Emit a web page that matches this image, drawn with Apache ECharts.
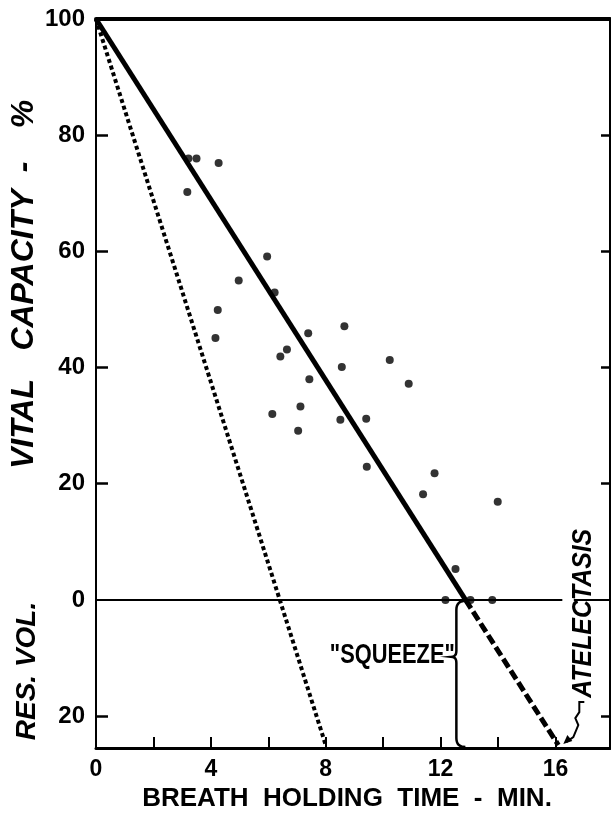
<!DOCTYPE html>
<html><head><meta charset="utf-8">
<script src="https://cdn.jsdelivr.net/npm/echarts@6/dist/echarts.min.js"></script>
<style>html,body{margin:0;padding:0;background:#fff;}#c{width:611px;height:814px;}</style>
</head><body><div id="c"></div>
<script>
// ---- data ----
const holdTime = [3.18, 3.22, 3.50, 4.27, 5.96, 4.97, 6.22, 4.24, 4.16, 7.39, 8.65, 6.65, 6.42, 10.23, 8.56,
                  10.89, 7.43, 7.12, 6.14, 7.04, 8.51, 9.41, 9.43, 11.79, 11.39, 13.99, 12.52, 12.17, 13.04, 13.80];
const vitalCap = [70.2, 76.0, 76.0, 75.2, 59.1, 55.0, 52.9, 49.9, 45.1, 45.9, 47.1, 43.1, 41.9, 41.3, 40.1,
                  37.2, 38.0, 33.3, 32.0, 29.1, 31.0, 31.2, 22.9, 21.8, 18.2, 16.9, 5.3, 0, 0, 0];
const solidFit = [[0, 100], [12.87, 0]];
const dashedFit = [[12.87, 0], [16.1, -25]];
const dottedLine = [[0, 100], [8, -25]];
const zeroLineA = [[0, 0], [16.24, 0]];
const zeroLineB = [[16.64, 0], [17.9, 0]];
const xLabelValues = [0, 4, 8, 12, 16];
const xTickValues = [2, 4, 6, 8, 10, 12, 14, 16];
const yLabelValues = [100, 80, 60, 40, 20, 0, -20];
const yTickValues = [80, 60, 40, 20, -20];
// annotation anchors (data coords)
const squeezeAt = [10.32, -9.5];
const atelectasisAt = [16.97, -2.3];
const braceX = 12.55, braceMid = -9.8;

const points = holdTime.map((x, i) => [x, vitalCap[i]]);
const FF = '"Liberation Sans", Arial, sans-serif';
const chart = echarts.init(document.getElementById('c'), null, {renderer: 'canvas'});

const lineSeries = (data, w, type) => ({
  type: 'line', data, symbol: 'none', silent: true, animation: false,
  lineStyle: {color: '#000', width: w, type: type || 'solid', cap: 'butt'}
});

chart.setOption({
  animation: false,
  backgroundColor: '#fff',
  grid: {left: 96, right: 1, top: 19, bottom: 66},
  xAxis: [{
    type: 'value', min: 0, max: 17.9, position: 'bottom',
    axisLine: {show: true, onZero: false, lineStyle: {color: '#000', width: 3}},
    axisTick: {show: true, inside: true, length: 11, customValues: xTickValues, lineStyle: {color: '#000', width: 2}},
    axisLabel: {customValues: xLabelValues, margin: 10, color: '#000', fontSize: 23, fontWeight: 'bold', fontFamily: FF},
    splitLine: {show: false}
  }, {
    type: 'value', min: 0, max: 17.9, position: 'top',
    axisLine: {show: true, onZero: false, lineStyle: {color: '#000', width: 4}},
    axisTick: {show: false}, axisLabel: {show: false}, splitLine: {show: false}
  }],
  yAxis: [{
    type: 'value', min: -25.5, max: 100, position: 'left',
    axisLine: {show: true, onZero: false, lineStyle: {color: '#000', width: 2}},
    axisTick: {show: true, inside: true, length: 12, customValues: yTickValues, lineStyle: {color: '#000', width: 2.5}},
    axisLabel: {customValues: yLabelValues, margin: 11, color: '#000', fontSize: 24, fontWeight: 'bold', fontFamily: FF,
      formatter: v => String(Math.abs(v))},
    splitLine: {show: false}
  }, {
    type: 'value', min: -25.5, max: 100, position: 'right',
    axisLine: {show: true, onZero: false, lineStyle: {color: '#000', width: 2}},
    axisTick: {show: true, inside: true, length: 9, customValues: yTickValues, lineStyle: {color: '#000', width: 2.5}},
    axisLabel: {show: false}, splitLine: {show: false}
  }],
  series: [
    lineSeries(zeroLineA, 2),
    lineSeries(zeroLineB, 2),
    lineSeries(dottedLine, 4, [4, 3]),
    lineSeries(solidFit, 5),
    lineSeries(dashedFit, 5, [10, 4]),
    {type: 'scatter', data: points, symbol: 'circle', symbolSize: 8, silent: true,
     itemStyle: {color: '#000'}, z: 5}
  ]
});

const px = p => chart.convertToPixel({xAxisIndex: 0, yAxisIndex: 0}, p);
const sq = px(squeezeAt);
const at = px(atelectasisAt);
const bTop = px([braceX, 0]);
const bBot = px([braceX, -25.5]);
const bMid = px([braceX, braceMid]);
const dEnd = px(dashedFit[1]);
const xv = bTop[0], y0 = bTop[1] + 1, yb = bBot[1] - 1, ym = bMid[1];

// quadratic curve sampler for the brace outline
function quad(p0, c, p1, n) {
  const out = [];
  for (let i = 0; i <= n; i++) {
    const t = i / n, a = (1 - t) * (1 - t), b = 2 * (1 - t) * t, d = t * t;
    out.push([a * p0[0] + b * c[0] + d * p1[0], a * p0[1] + b * c[1] + d * p1[1]]);
  }
  return out;
}
const brace = [].concat(
  quad([xv + 9, y0], [xv, y0], [xv, y0 + 9], 8),
  quad([xv, ym - 6], [xv, ym], [xv - 5, ym], 6),
  quad([xv - 5, ym], [xv, ym], [xv, ym + 6], 6),
  quad([xv, yb - 9], [xv, yb], [xv + 9, yb], 8)
);
const tx = dEnd[0] + 5, ty = dEnd[1] - 1;
const leader = [[tx + 21, ty - 42], [tx + 16, ty - 42], [tx + 16, ty - 32], [tx + 12, ty - 26], [tx + 15, ty - 19], [tx + 10, ty - 7], [tx + 3, ty - 2]];

const txt = (text, x, y, font, rot, sx) => ({
  type: 'text', x, y, rotation: rot || 0, scaleX: sx || 1, silent: true,
  style: {text, font, fill: '#000', align: 'center', verticalAlign: 'middle', textAlign: 'center', textVerticalAlign: 'middle'}
});

chart.setOption({
  graphic: [
    txt('BREATH  HOLDING  TIME  -  MIN.', 347, 799, `bold 26px ${FF}`),
    txt('VITAL', 24, 424, `italic bold 32px ${FF}`, Math.PI / 2),
    txt('CAPACITY', 24, 270, `italic bold 32px ${FF}`, Math.PI / 2),
    txt('-', 24, 167, `italic bold 32px ${FF}`, Math.PI / 2),
    txt('%', 24, 114, `italic bold 32px ${FF}`, Math.PI / 2),
    txt('RES. VOL.', 27, 671, `italic bold 28px ${FF}`, Math.PI / 2),
    txt('"SQUEEZE"', sq[0], sq[1], `bold 28px ${FF}`, 0, 0.78),
    txt('ATELECTASIS', at[0], at[1], `italic bold 27px ${FF}`, Math.PI / 2, 0.92),
    {type: 'polyline', silent: true, shape: {points: brace},
     style: {fill: null, stroke: '#000', lineWidth: 2.5}},
    {type: 'polyline', silent: true, shape: {points: leader},
     style: {fill: null, stroke: '#000', lineWidth: 2}},
    {type: 'polygon', silent: true, shape: {points: [[tx, ty], [tx + 9, ty - 3], [tx + 4, ty - 9]]},
     style: {fill: '#000'}}
  ]
});
</script></body></html>
